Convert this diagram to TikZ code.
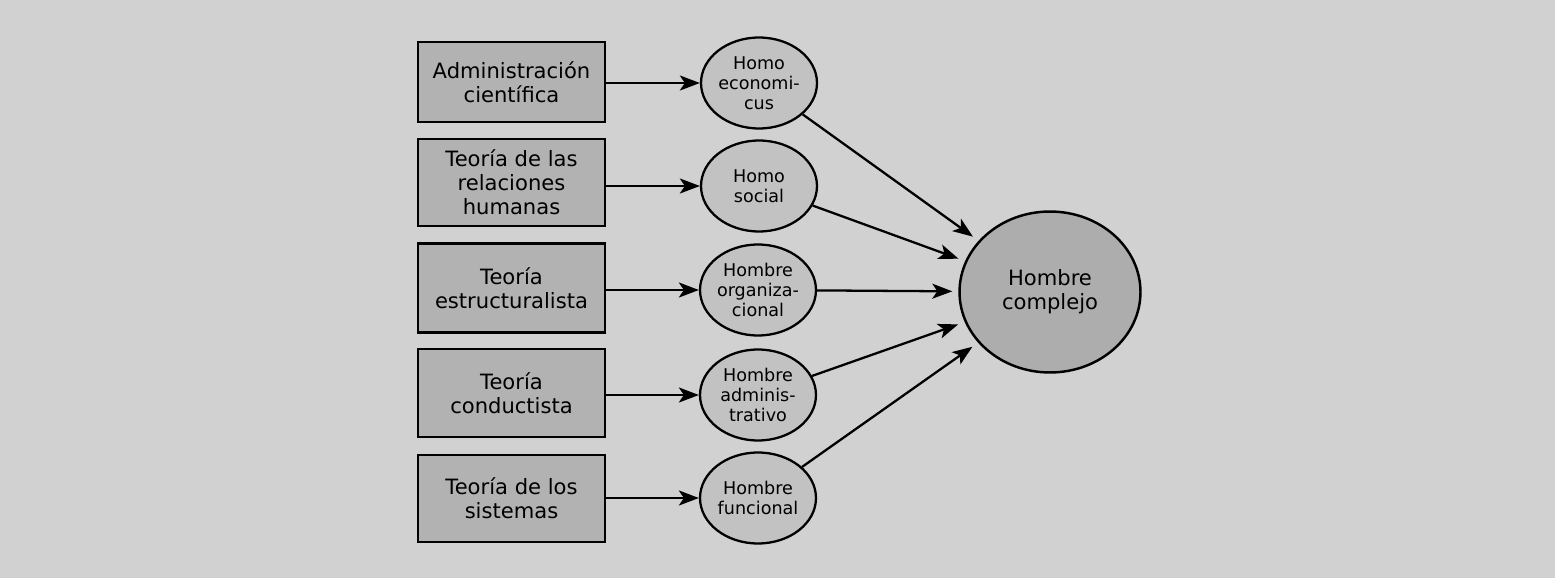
\documentclass[tikz,border=0pt]{standalone}
\usepackage{fontspec}
\setmainfont{DejaVu Sans}
\usetikzlibrary{shapes.geometric,arrows.meta}
\begin{document}
\begin{tikzpicture}[x=0.02cm,y=-0.02cm,
  bg/.style={fill=black!18,draw=none},
  theory/.style={draw=black,line width=1.5pt,fill=black!30,minimum width=3.74cm,
    align=center,font=\fontsize{12}{13.6}\selectfont,inner sep=2pt},
  homo/.style={ellipse,draw=black,line width=1.3pt,fill=black!24,minimum width=2.32cm,
    minimum height=1.82cm,inner sep=0pt,align=center,font=\fontsize{10}{11.3}\selectfont},
  big/.style={ellipse,draw=black,line width=1.4pt,fill=black!32,minimum width=3.62cm,
    minimum height=3.22cm,align=center,font=\fontsize{12}{13.6}\selectfont},
  conn/.style={line width=1.3pt,-{Stealth[length=0.4cm,width=0.3cm,inset=0.1cm]}},
]
\path[bg,use as bounding box] (0,0) rectangle (1555,578);

\node[theory,minimum height=1.6cm]  (t1) at (511.5,82)  {Administración\\científica};
\node[theory,minimum height=1.74cm] (t2) at (511.5,182.5) {Teoría de las\\relaciones\\humanas};
\node[theory,minimum height=1.78cm] (t3) at (511.5,288) {Teoría\\estructuralista};
\node[theory,minimum height=1.76cm] (t4) at (511.5,393) {Teoría\\conductista};
\node[theory,minimum height=1.74cm] (t5) at (511.5,498.5) {Teoría de los\\sistemas};

\node[homo] (h1) at (759,83)  {Homo\\economi-\\cus};
\node[homo] (h2) at (759,186) {Homo\\social};
\node[homo] (h3) at (758,290) {Hombre\\organiza-\\cional};
\node[homo] (h4) at (758,395) {Hombre\\adminis-\\trativo};
\node[homo] (h5) at (758,498) {Hombre\\funcional};

\node[big] (c) at (1050,292) {Hombre\\complejo};

\foreach \i in {1,...,5}{
  \draw[conn] (h\i.west -| t\i.east) -- (h\i.west);
}
\draw[conn,shorten >=0.14cm] (h1) -- (c);
\draw[conn,shorten >=0.14cm] (h2) -- (c);
\draw[conn,shorten >=0.12cm] (h3) -- (c);
\draw[conn,shorten >=0.14cm] (h4) -- (c);
\draw[conn,shorten >=0.14cm] (h5) -- (c);
\end{tikzpicture}
\end{document}
